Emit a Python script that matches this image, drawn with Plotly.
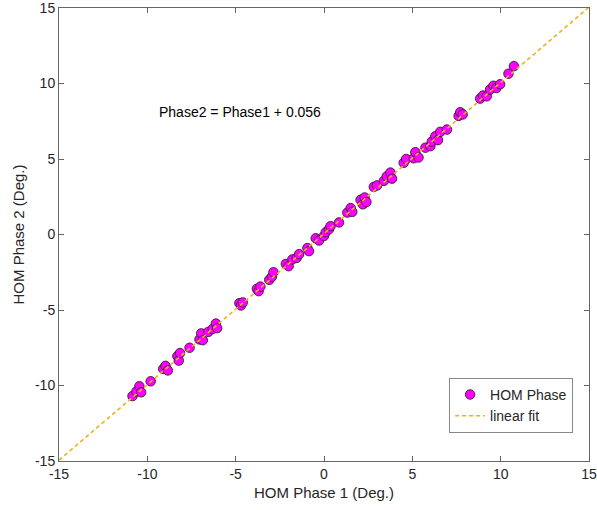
import plotly.graph_objects as go

phase1 = [-10.84, -10.62, -10.45, -10.35, -9.81, -9.10, -8.97, -8.84, -8.30, -8.22, -8.15,
          -7.61, -7.05, -6.95, -6.86, -6.55, -6.30, -6.12, -6.05, -4.79, -4.70, -4.60,
          -3.80, -3.70, -3.60, -3.10, -2.95, -2.86, -2.16, -2.00, -1.79, -1.55, -1.41,
          -0.94, -0.85, -0.47, -0.28, 0.00, 0.10, 0.28, 0.37, 0.85, 1.32, 1.51, 1.60,
          2.07, 2.20, 2.30, 2.40, 2.82, 3.00, 3.39, 3.55, 3.76, 3.85, 4.51, 4.65, 5.08,
          5.17, 5.35, 5.74, 6.02, 6.10, 6.30, 6.45, 6.58, 6.96, 7.62, 7.71, 7.85, 8.84,
          9.00, 9.21, 9.40, 9.59, 9.75, 9.97, 10.44, 10.75]
phase2 = [-10.70, -10.40, -10.05, -10.45, -9.72, -8.90, -8.70, -9.00, -8.05, -8.35, -7.85,
          -7.50, -6.95, -6.55, -7.00, -6.45, -6.25, -5.90, -6.20, -4.55, -4.70, -4.50,
          -3.60, -3.75, -3.45, -3.00, -2.80, -2.50, -1.95, -2.10, -1.65, -1.55, -1.30,
          -0.90, -1.10, -0.25, -0.40, -0.10, 0.15, 0.35, 0.55, 0.80, 1.45, 1.75, 1.50,
          2.30, 2.00, 2.45, 2.15, 3.15, 3.25, 3.55, 3.85, 4.10, 3.70, 4.75, 5.00, 5.05,
          5.45, 5.10, 5.75, 5.85, 6.15, 6.50, 6.25, 6.80, 6.95, 7.85, 8.10, 7.95, 9.00,
          9.20, 9.15, 9.60, 9.85, 9.70, 9.95, 10.65, 11.15]
fit_x = [-15.0, 15.0]
fit_y = [-14.944, 15.056]
tick_vals = [-15, -10, -5, 0, 5, 10, 15]
tick_text = ["-15", "-10", "-5", "0", "5", "10", "15"]

font_family = "Liberation Sans, Arial, sans-serif"
txt = "#262626"
axc = "#666666"

fig = go.Figure()
fig.add_trace(go.Scatter(
    x=phase1, y=phase2, mode="markers", name="HOM Phase",
    marker=dict(color="#FF00FF", size=9.5, line=dict(color="#3a1a3a", width=0.9)),
))
fig.add_trace(go.Scatter(
    x=fit_x, y=fit_y, mode="lines", name="linear fit",
    line=dict(color="#EDB120", width=1.6, dash="4px,3px"),
))

fig.add_annotation(x=-9.47, y=8.1, text="Phase2 = Phase1 + 0.056", showarrow=False,
                   xanchor="left", yanchor="middle",
                   font=dict(family=font_family, size=14, color="#000000"))

axis_common = dict(
    range=[-15, 15], tickvals=tick_vals, ticktext=tick_text,
    showgrid=False, zeroline=False, automargin=False,
    showline=True, linecolor=axc, linewidth=1, mirror="ticks",
    ticks="inside", ticklen=5, tickcolor=axc, ticklabeloverflow="allow",
    tickfont=dict(family=font_family, size=14, color=txt),
)
fig.update_xaxes(**axis_common, title=dict(text="HOM Phase 1 (Deg.)", standoff=6,
                 font=dict(family=font_family, size=15, color=txt)))
fig.update_yaxes(**axis_common, title=dict(text="HOM Phase 2 (Deg.)", standoff=6,
                 font=dict(family=font_family, size=15, color=txt)))

fig.update_layout(
    width=597, height=510,
    margin=dict(l=59, r=8, t=8, b=49),
    plot_bgcolor="white", paper_bgcolor="white",
    showlegend=True,
    legend=dict(x=0.97, y=0.062, xanchor="right", yanchor="bottom",
                bgcolor="white", bordercolor="#888888", borderwidth=1,
                font=dict(family=font_family, size=14, color=txt),
                tracegroupgap=0, itemwidth=30),
)

fig.write_html("out.html", config={"displayModeBar": False},
               post_script="document.body.style.margin='0';")
